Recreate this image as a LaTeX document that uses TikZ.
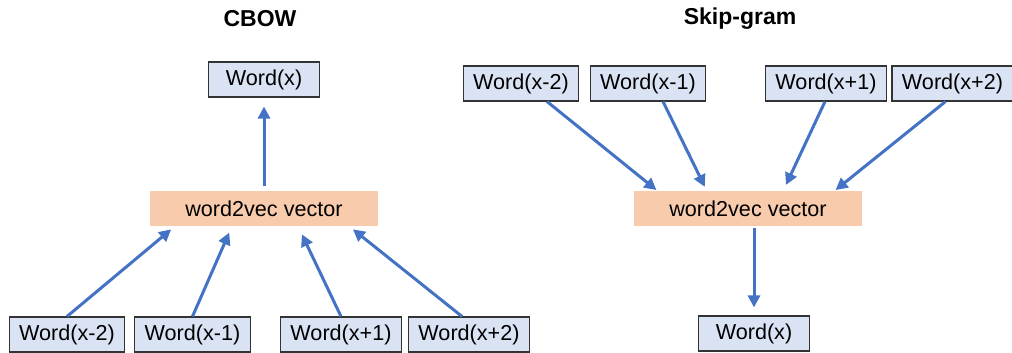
\documentclass[tikz,border=0pt]{standalone}
\usepackage{fontspec}
\setmainfont{Liberation Sans}
\usetikzlibrary{arrows.meta}
\definecolor{wordblue}{HTML}{DAE3F3}
\definecolor{vecpeach}{HTML}{F8CBAD}
\definecolor{arrblue}{HTML}{4472C4}

\begin{document}
\begin{tikzpicture}
[x=1pt,y=1pt,every node/.style={font=\fontsize{21.6}{24}\selectfont},
word/.style={draw=black!80,line width=1.1pt,fill=wordblue,minimum height=35pt,inner xsep=10pt,inner ysep=0pt},
vec/.style={fill=vecpeach,minimum width=228pt,minimum height=35pt},
title/.style={font=\fontsize{23}{26}\selectfont\bfseries},
arr/.style={arrblue,line width=3pt,-{Triangle[length=12pt,width=12pt]}}]
\useasboundingbox (0,0) rectangle (1012,353);
% CBOW
\node[title] (cbow) at (260,334) {CBOW};
\node[word,minimum width=111pt] (lx) at (264,273.5) {Word(x)};
\node[vec] (lvec) at (264,144.5) {word2vec vector};
\node[word] (lm2) at (67,18.5) {Word(x-2)};
\node[word] (lm1) at (192.5,18.5) {Word(x-1)};
\node[word] (lp1) at (341,18.5) {Word(x+1)};
\node[word] (lp2) at (469,18.5) {Word(x+2)};
\draw[arr,shorten <=5pt,shorten >=9pt] (lvec.north) -- (lx.south);
\foreach \from/\sx/\dx/\g in {lm2/0/-89/5,lm1/0/-32/7,lp1/0/34/9,lp2/-7/85/5}
\draw[arr,shorten >=\g pt] ([xshift=\sx pt]\from.north) -- ([xshift=\dx pt]lvec.south);
% Skip-gram
\node[title] (skip) at (740,334) {Skip-gram};
\node[word] (rm2) at (521,269.5) {Word(x-2)};
\node[word] (rm1) at (648,269.5) {Word(x-1)};
\node[word] (rp1) at (826,269.5) {Word(x+1)};
\node[word] (rp2) at (952.5,269.5) {Word(x+2)};
\node[vec] (rvec) at (748,144) {word2vec vector};
\node[word,minimum width=111pt] (rx) at (754,19.5) {Word(x)};
\draw[arr,shorten <=1pt,shorten >=8pt] (rvec.south -| rx.north) -- (rx.north);
\foreach \from/\sx/\dx/\g in {rm2/26/-90/2,rm1/15/-41/5,rp1/-1/35/7,rp2/-7/86/2}
\draw[arr,shorten >=\g pt] ([xshift=\sx pt]\from.south) -- ([xshift=\dx pt]rvec.north);
\end{tikzpicture}
\end{document}
